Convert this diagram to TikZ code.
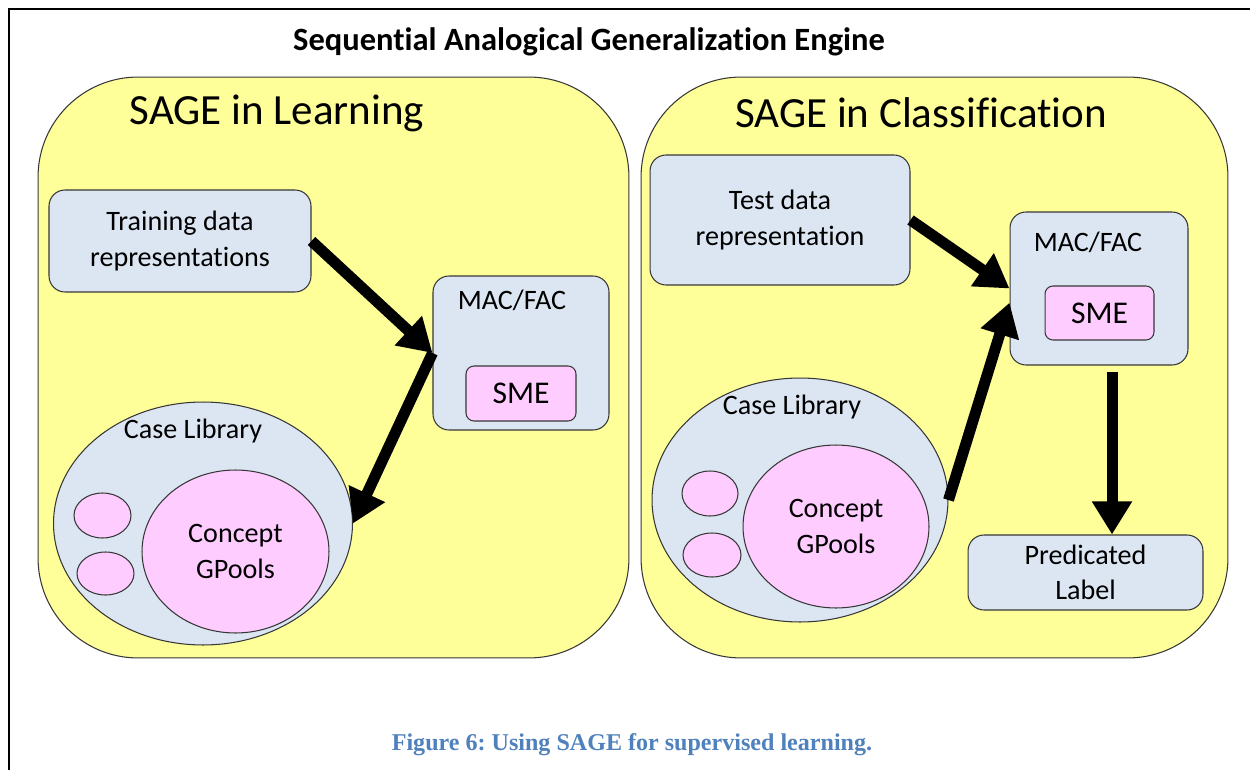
\documentclass[tikz,border=0pt]{standalone}
\usepackage{fontspec}
\setmainfont[Ligatures={NoCommon,NoContextual}]{Carlito}
\newfontfamily\capfont{Liberation Serif}
\usetikzlibrary{arrows.meta,shapes.geometric,calc}
\frenchspacing
% keeps "t" and "i" as separate glyphs
\newcommand{\sepTI}{t\kern0pt i}

\definecolor{panelyellow}{RGB}{255,255,153}
\definecolor{boxblue}{RGB}{220,230,242}
\definecolor{boxpink}{RGB}{255,204,255}
\definecolor{edgegray}{RGB}{55,55,55}
\definecolor{captionblue}{RGB}{79,129,189}

\tikzset{
  panel/.style={draw=edgegray, line width=0.6pt, fill=panelyellow, rounded corners=2cm, inner sep=0pt},
  bluebox/.style={draw=edgegray, line width=0.6pt, fill=boxblue, rounded corners=0.32cm,
    inner sep=0pt, align=center, font=\fontsize{16}{20}\selectfont},
  smebox/.style={draw=edgegray, line width=0.6pt, fill=boxpink, rounded corners=0.16cm,
    inner sep=0pt, font=\fontsize{18}{22}\selectfont},
  caseell/.style={ellipse, draw=edgegray, line width=0.6pt, fill=boxblue, inner sep=0pt},
  poolell/.style={ellipse, draw=edgegray, line width=0.6pt, fill=boxpink, inner sep=0pt,
    align=center, font=\fontsize{16}{20}\selectfont},
  plain/.style={inner sep=0pt, font=\fontsize{16}{20}\selectfont},
  bigarrow/.style={line width=0.22cm, -{Triangle[length=0.66cm,width=0.76cm]}},
}

\begin{document}
\begin{tikzpicture}[x={(0.02cm,0)}, y={(0,-0.02cm)}]
\useasboundingbox[fill=white] (0,0) rectangle (1250,770);

% outer frame (top and left edges)
\draw[line width=1.1pt] (9,770) -- (9,9) -- (1250,9);

% heading
\node[inner sep=0pt, font=\fontsize{18.5}{22}\selectfont\bfseries] (head) at (589,42)
  {Sequen\sepTI al Analogical Generaliza\sepTI on Engine};

% ---------- left panel: learning ----------
\node[panel, minimum width=11.82cm, minimum height=11.62cm] (learn) at (333.5,367.5) {};
\node[inner sep=0pt, font=\fontsize{24.5}{28}\selectfont] (learnT) at (277,113) {SAGE in Learning};

\node[bluebox, minimum width=5.24cm, minimum height=2.04cm] (train) at (180,241)
  {Training data\\representa\sepTI ons};

\node[bluebox, minimum width=3.52cm, minimum height=3.08cm] (macL) at (521,353) {};
\node[plain] (macLt) at (512,300) {MAC/FAC};
\node[smebox, minimum width=2.2cm, minimum height=1.1cm] (smeL) at (521,393.5) {SME};

\node[caseell, minimum width=5.98cm, minimum height=4.86cm] (caseL) at (203,523.5) {};
\node[plain] (caseLt) at (193,431) {Case Library};
\node[poolell, minimum width=3.74cm, minimum height=3.26cm] (poolL) at (235.5,551.5) {Concept\\GPools};
\node[poolell, minimum width=1.14cm, minimum height=0.9cm] (gL1) at (102.5,515.5) {};
\node[poolell, minimum width=1.14cm, minimum height=0.86cm] (gL2) at (105.5,573.5) {};

\draw[bigarrow] (train.east) -- (macL.west);
\draw[bigarrow] (macL.west) -- (caseL.east);

% ---------- right panel: classification ----------
\node[panel, minimum width=11.74cm, minimum height=11.62cm] (classify) at (934.5,367.5) {};
\node[inner sep=0pt, font=\fontsize{24.5}{28}\selectfont] (classT) at (921,113) {SAGE in Classifica\sepTI on};

\node[bluebox, minimum width=5.2cm, minimum height=2.6cm] (test) at (780,220)
  {Test data\\representa\sepTI on};

\node[bluebox, minimum width=3.56cm, minimum height=3.06cm] (macR) at (1099,288.5) {};
\node[plain] (macRt) at (1088,242) {MAC/FAC};
\node[smebox, minimum width=2.18cm, minimum height=1.08cm] (smeR) at (1099.5,313) {SME};

\node[caseell, minimum width=5.92cm, minimum height=4.88cm] (caseR) at (800,500) {};
\node[plain] (caseRt) at (792,407) {Case Library};
\node[poolell, minimum width=3.72cm, minimum height=3.26cm] (poolR) at (836,526.5) {Concept\\GPools};
\node[poolell, minimum width=1.12cm, minimum height=0.9cm] (gR1) at (710,493.5) {};
\node[poolell, minimum width=1.16cm, minimum height=0.88cm] (gR2) at (712,555) {};

\node[bluebox, minimum width=4.7cm, minimum height=1.5cm] (pred) at (1085.5,572.5)
  {Predicated\\Label};

\draw[bigarrow] (test.east) -- (macR.west);
\draw[bigarrow] (caseR.east) -- (macR.189);
\coordinate (outTail) at (1112,372);
\draw[bigarrow] (outTail) -- (outTail |- pred.north);

% caption
\node[inner sep=0pt, text=captionblue, font=\capfont\bfseries\fontsize{13.7}{16}\selectfont] (cap)
  at (632,745) {Figure 6: Using SAGE for supervised learning.};
\end{tikzpicture}
\end{document}
